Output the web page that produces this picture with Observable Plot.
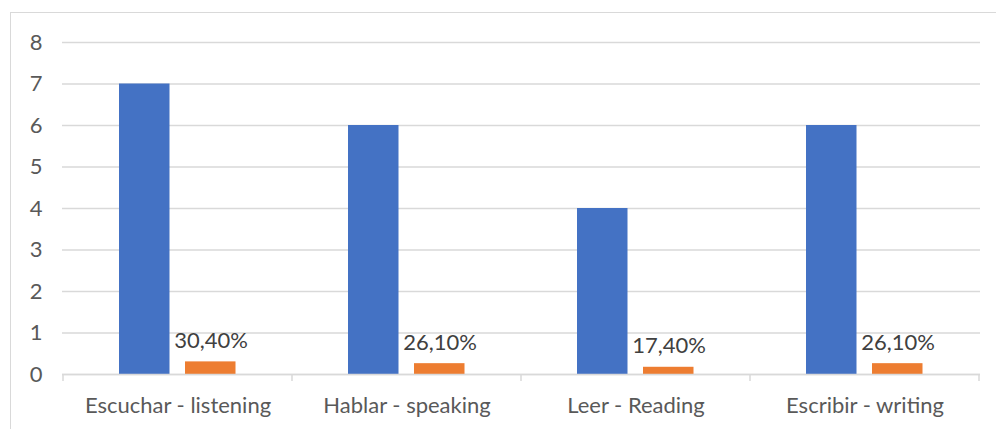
<!DOCTYPE html>
<html>
<head>
<meta charset="utf-8">
<script src="https://cdn.jsdelivr.net/npm/d3@7"></script>
<script src="https://cdn.jsdelivr.net/npm/@observablehq/plot@0.6"></script>
<style>
  html, body { margin: 0; padding: 0; background: #ffffff; }
  #wrap { position: relative; width: 996px; height: 429px; overflow: hidden; }
  #border { position: absolute; left: 10px; top: 12px; width: 1100px; height: 500px;
            border-left: 1px solid #d9d9d9; border-top: 1px solid #d9d9d9; }
  #chart { position: absolute; left: 0; top: 0; }
</style>
</head>
<body>
<div id="wrap"><div id="border"></div><div id="chart"></div></div>
<script>
const categories = ["Escuchar - listening", "Hablar - speaking", "Leer - Reading", "Escribir - writing"];
const counts = [7, 6, 4, 6];
const shares = [0.304, 0.261, 0.174, 0.261];
const shareLabels = ["30,40%", "26,10%", "17,40%", "26,10%"];
const yTicks = [0, 1, 2, 3, 4, 5, 6, 7, 8];

const data = categories.map((c, i) => ({cat: c, count: counts[i], share: shares[i], label: shareLabels[i]}));

function boundaryTicks(index, scales, values, dimensions) {
  const x = scales.x, y = scales.y;
  const step = x(categories[1]) - x(categories[0]);
  const edges = categories.map(c => x(c)).concat([x(categories[categories.length - 1]) + step]);
  const y0 = y(0);
  const g = d3.create("svg:g").attr("stroke", "#d9d9d9").attr("stroke-width", 1.5);
  for (const e of edges) {
    g.append("line").attr("x1", e).attr("x2", e).attr("y1", y0).attr("y2", y0 + 7);
  }
  return g.node();
}

const chart = Plot.plot({
  width: 996,
  height: 429,
  marginLeft: 62,
  marginRight: 16,
  marginTop: 42,
  marginBottom: 55,
  style: {fontFamily: "Lato, 'Open Sans', sans-serif", fontSize: "22px", color: "#595959", background: "transparent"},
  x: {domain: categories, padding: 0, label: null, tickSize: 0, tickPadding: 23},
  y: {domain: [0, 8], ticks: yTicks, label: null, tickSize: 0, tickPadding: 20},
  marks: [
    Plot.gridY(yTicks, {stroke: "#d9d9d9", strokeOpacity: 1, strokeWidth: 1.5}),
    Plot.barY(data, {x: "cat", y: "count", fill: "#4472C4", insetLeft: 56, insetRight: 122.5}),
    Plot.barY(data, {x: "cat", y: "share", fill: "#ED7D31", insetLeft: 122, insetRight: 56.5}),
    Plot.ruleY([0], {stroke: "#d9d9d9", strokeWidth: 1.5}),
    Plot.text(data, {x: "cat", y: "share", text: "label", dx: 33, dy: -14, lineAnchor: "bottom", fill: "#404040", fontSize: 22}),
    boundaryTicks
  ]
});
document.getElementById("chart").appendChild(chart);
</script>
</body>
</html>
